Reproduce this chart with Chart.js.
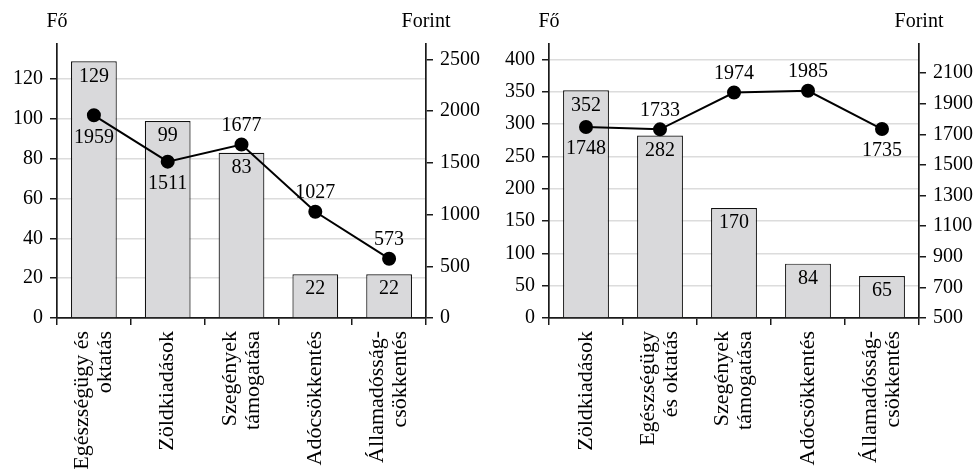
<!DOCTYPE html>
<html>
<head>
<meta charset="utf-8">
<script src="https://cdn.jsdelivr.net/npm/chart.js@4.4.1/dist/chart.umd.min.js"></script>
<style>
  html, body { margin: 0; padding: 0; background: #fff; }
  #wrap { display: flex; width: 978px; height: 469px; }
  canvas { display: block; }
</style>
</head>
<body>
<div id="wrap">
  <canvas id="chart1" width="489" height="469"></canvas>
  <canvas id="chart2" width="489" height="469"></canvas>
</div>
<script>
// left chart
const labels1 = [["Egészségügy és", "oktatás"], "Zöldkiadások", ["Szegények", "támogatása"], "Adócsökkentés", ["Államadósság-", "csökkentés"]];
const people1 = [129, 99, 83, 22, 22];
const forint1 = [1959, 1511, 1677, 1027, 573];
const forintPos1 = ["below", "below", "above", "above", "above"];
const leftTicks1 = [0, 20, 40, 60, 80, 100, 120];
const rightTicks1 = [0, 500, 1000, 1500, 2000, 2500];

// right chart
const labels2 = ["Zöldkiadások", ["Egészségügy", "és oktatás"], ["Szegények", "támogatása"], "Adócsökkentés", ["Államadósság-", "csökkentés"]];
const people2 = [352, 282, 170, 84, 65];
const forint2 = [1748, 1733, 1974, 1985, 1735];
const forintPos2 = ["below", "above", "above", "above", "below"];
const leftTicks2 = [0, 50, 100, 150, 200, 250, 300, 350, 400];
const rightTicks2 = [500, 700, 900, 1100, 1300, 1500, 1700, 1900, 2100];

const unitLeft = "Fő";
const unitRight = "Forint";

const SERIF = '"Liberation Serif", "Times New Roman", serif';
const AXIS = "#1a1a1a";

// draws the numbers on bars and points, and the unit names over the axes
const valueLabels = {
  id: "valueLabels",
  beforeDraw(chart) {
    // centre two-line category labels on their tick (Chart.js puts the first line on it)
    const items = chart.scales.x.getLabelItems();
    items.forEach((item) => {
      if (Array.isArray(item.label) && !item._centred) {
        item.options.translation[0] -= (item.label.length - 1) * item.font.lineHeight / 2;
        item._centred = true;
      }
    });
  },
  afterDatasetsDraw(chart, args, opts) {
    const ctx = chart.ctx;
    ctx.save();
    ctx.font = "20px " + SERIF;
    ctx.fillStyle = "#000";
    ctx.textAlign = "center";
    ctx.textBaseline = "middle";
    const bars = chart.getDatasetMeta(1);
    bars.data.forEach((bar, i) => {
      ctx.fillText(chart.data.datasets[1].data[i], bar.x, bar.y + 15);
    });
    const line = chart.getDatasetMeta(0);
    line.data.forEach((pt, i) => {
      const dy = opts.pos[i] === "above" ? -19 : 22;
      ctx.fillText(chart.data.datasets[0].data[i], pt.x, pt.y + dy);
    });
    const area = chart.chartArea;
    ctx.fillText(unitLeft, area.left, 22);
    ctx.fillText(unitRight, area.right, 22);
    ctx.restore();
  },
};

function fixedTicks(values) {
  return (scale) => {
    scale.ticks = values.map((v) => ({ value: v }));
  };
}

function drawChart(id, labels, bars, line, pos, axes) {
  new Chart(id, {
    data: {
      labels: labels,
      datasets: [
        {
          type: "line",
          data: line,
          borderColor: "#000",
          borderWidth: 2,
          pointBackgroundColor: "#000",
          pointBorderColor: "#000",
          pointRadius: 6,
          yAxisID: "right",
          order: 0,
        },
        {
          type: "bar",
          data: bars,
          backgroundColor: "#d9d9db",
          borderColor: "#111",
          borderWidth: 1.2,
          barPercentage: 0.62,
          categoryPercentage: 1,
          yAxisID: "left",
          order: 1,
        },
      ],
    },
    plugins: [valueLabels],
    options: {
      responsive: false,
      animation: false,
      events: [],
      layout: { padding: { top: 44, left: 0, right: 0, bottom: 0 } },
      plugins: {
        legend: { display: false },
        tooltip: { enabled: false },
        valueLabels: { pos: pos },
      },
      scales: {
        x: {
          offset: true,
          grid: {
            offset: true,
            drawOnChartArea: false,
            tickLength: 7,
            tickColor: AXIS,
            lineWidth: 1.5,
          },
          border: { color: AXIS, width: 1.7 },
          ticks: {
            minRotation: 90,
            maxRotation: 90,
            padding: 6,
            color: "#000",
            font: { family: SERIF, size: 22, lineHeight: 1.05 },
          },
          afterFit(scale) { scale.height = 151; },
        },
        left: {
          type: "linear",
          position: "left",
          min: 0,
          max: axes.leftMax,
          afterBuildTicks: fixedTicks(axes.leftTicks),
          grid: {
            color: (c) => (c.tick && c.tick.value === 0 ? "rgba(0,0,0,0)" : "#dcdcdc"),
            lineWidth: 1.5,
            tickLength: 7,
            tickColor: AXIS,
          },
          border: { color: AXIS, width: 1.7 },
          ticks: {
            padding: 7,
            color: "#000",
            font: { family: SERIF, size: 20 },
            callback: (v) => String(v),
          },
          afterFit(scale) { scale.width = axes.leftWidth; },
        },
        right: {
          type: "linear",
          position: "right",
          min: axes.rightMin,
          max: axes.rightMax,
          afterBuildTicks: fixedTicks(axes.rightTicks),
          grid: {
            drawOnChartArea: false,
            lineWidth: 1.5,
            tickLength: 7,
            tickColor: AXIS,
          },
          border: { color: AXIS, width: 1.7 },
          ticks: {
            padding: 7,
            color: "#000",
            font: { family: SERIF, size: 20 },
            callback: (v) => String(v),
          },
          afterFit(scale) { scale.width = axes.rightWidth; },
        },
      },
    },
  });
}

drawChart("chart1", labels1, people1, forint1, forintPos1, {
  leftMax: 137.7, leftTicks: leftTicks1, rightMin: 0, rightMax: 2648, rightTicks: rightTicks1,
  leftWidth: 57, rightWidth: 63,
});
drawChart("chart2", labels2, people2, forint2, forintPos2, {
  leftMax: 423.6, leftTicks: leftTicks2, rightMin: 500, rightMax: 2291, rightTicks: rightTicks2,
  leftWidth: 60, rightWidth: 59,
});
</script>
</body>
</html>
